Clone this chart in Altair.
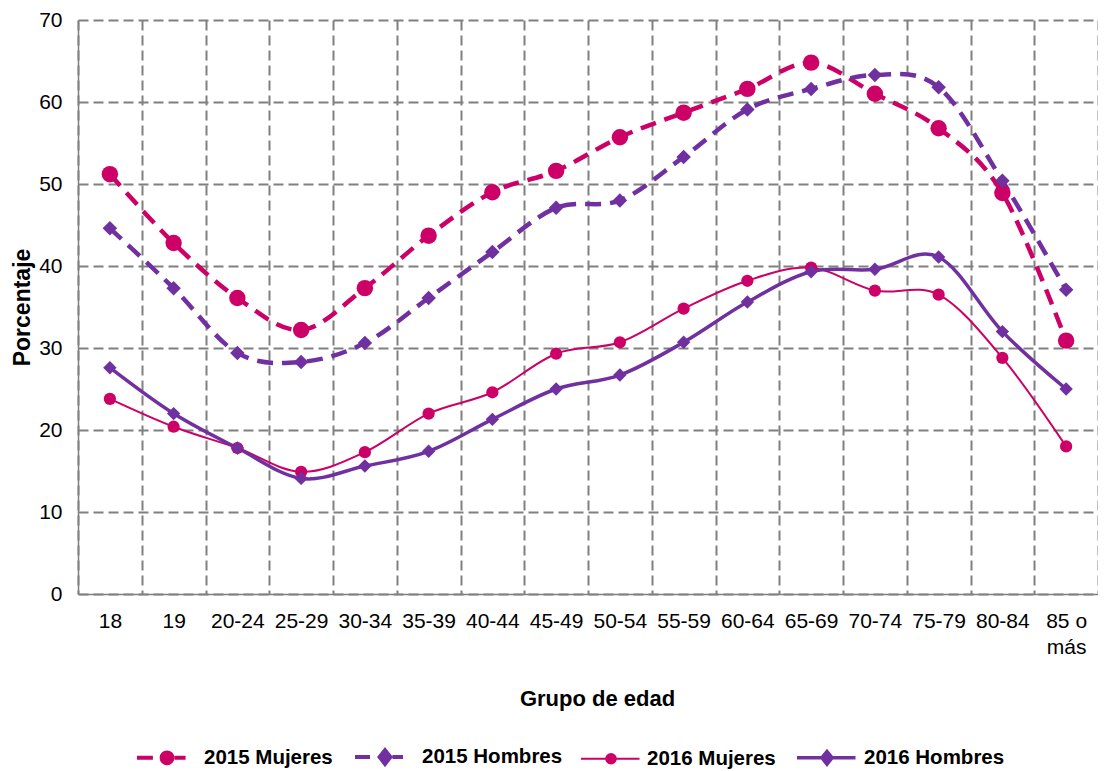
import altair as alt
import pandas as pd

grupos = ["18", "19", "20-24", "25-29", "30-34", "35-39", "40-44", "45-49",
          "50-54", "55-59", "60-64", "65-69", "70-74", "75-79", "80-84", "85 o más"]
series = ["2015 Mujeres", "2015 Hombres", "2016 Mujeres", "2016 Hombres"]
m2015 = [51.2, 42.8, 36.1, 32.2, 37.3, 43.7, 49.0, 51.6, 55.7, 58.7, 61.6, 64.8, 61.0, 56.8, 48.9, 30.9]
h2015 = [44.6, 37.3, 29.4, 28.3, 30.6, 36.1, 41.7, 47.1, 48.0, 53.3, 59.1, 61.6, 63.3, 61.8, 50.4, 37.1]
m2016 = [23.8, 20.4, 17.8, 14.9, 17.3, 22.0, 24.6, 29.3, 30.7, 34.8, 38.2, 39.8, 37.0, 36.5, 28.8, 18.0]
h2016 = [27.6, 22.0, 17.8, 14.1, 15.6, 17.4, 21.3, 25.0, 26.7, 30.7, 35.6, 39.3, 39.6, 41.1, 32.0, 25.0]

rows = []
for s, vals in zip(series, [m2015, h2015, m2016, h2016]):
    for g, v in zip(grupos, vals):
        rows.append({"serie": s, "grupo": g, "valor": v})
df = pd.DataFrame(rows)

MAG = "#CC0066"
PUR = "#7030A0"
colors = [MAG, PUR, MAG, PUR]
widths = [4.5, 4.5, 2, 3.5]
dashes = [[16, 9], [16, 9], None, None]
shapes = ["circle", "diamond", "circle", "diamond"]
sizes = [270, 210, 150, 180]
legend_paths = [
    "M-1,0L-0.47,0M0.25,0L0.62,0M-0.18,0A0.18,0.18 0 1,0 0.18,0A0.18,0.18 0 1,0 -0.18,0Z",
    "M-1,0L-0.5,0M0.25,0L0.6,0M0,-0.23L0.18,0L0,0.23L-0.18,0Z",
    "M-1,0L0.95,0M-0.16,0A0.16,0.16 0 1,0 0.16,0A0.16,0.16 0 1,0 -0.16,0Z",
    "M-1,0L0.95,0M0,-0.21L0.17,0L0,0.21L-0.17,0Z",
]

FONT = "Liberation Sans, Arial, sans-serif"

xenc = alt.X(
    "grupo:N", sort=grupos, bandPosition=0.5,
    scale=alt.Scale(type="band", paddingInner=0, paddingOuter=0),
    axis=alt.Axis(
        title="Grupo de edad", tickBand="extent", grid=True, ticks=False, tickSize=0,
        labelAngle=0, labelPadding=16, labelLineHeight=26, labelOverlap=False,
        labelExpr="datum.value == '85 o más' ? ['85 o', 'más'] : datum.value",
        titlePadding=31, titleX=519,
    ),
)
yenc = alt.Y(
    "valor:Q",
    scale=alt.Scale(domain=[0, 70], nice=False, zero=True),
    axis=alt.Axis(
        title="Porcentaje", values=[0, 10, 20, 30, 40, 50, 60, 70], grid=True,
        ticks=False, tickSize=0, labelPadding=16, titlePadding=4,
    ),
)

base = alt.Chart(df)
line_layers = []
point_layers = []
for s, c, w, d, shp, sz in zip(series, colors, widths, dashes, shapes, sizes):
    lk = dict(interpolate="cardinal", color=c, strokeWidth=w)
    if d is not None:
        lk["strokeDash"] = d
    line_layers.append(
        base.transform_filter(alt.datum.serie == s).mark_line(**lk).encode(x=xenc, y=yenc)
    )
    point_layers.append(
        base.transform_filter(alt.datum.serie == s)
        .mark_point(filled=True, opacity=1, shape=shp, size=sz, color=c)
        .encode(x=xenc, y=yenc)
    )

leg = alt.Legend(
    title=None, orient="none", legendX=57, legendY=705, direction="horizontal",
    labelFont=FONT, labelFontSize=20.5, labelFontWeight="bold", labelColor="#000000",
    labelOffset=5, columnPadding=14, symbolSize=3600,
)
legend_layer = base.transform_filter("false").mark_point(
    filled=True, opacity=1
).encode(
    x=xenc, y=yenc,
    fill=alt.Fill("serie:N", scale=alt.Scale(domain=series, range=colors), legend=leg),
    stroke=alt.Stroke("serie:N", scale=alt.Scale(domain=series, range=colors), legend=leg),
    strokeWidth=alt.StrokeWidth(
        "serie:N", scale=alt.Scale(type="ordinal", domain=series, range=[4, 4, 2, 3.5]), legend=leg
    ),
    shape=alt.Shape("serie:N", scale=alt.Scale(domain=series, range=legend_paths), legend=leg),
)

chart = alt.layer(*line_layers, *point_layers, legend_layer).properties(
    width=1020, height=574,
    autosize=alt.AutoSizeParams(type="none"),
    padding={"left": 70, "top": 12, "right": 0, "bottom": 177},
).configure_view(stroke=None).configure_axis(
    labelFont=FONT, labelFontSize=21, labelColor="#000000",
    titleFont=FONT, titleFontSize=22, titleFontWeight="bold", titleColor="#000000",
    gridColor="#808080", gridDash=[10, 5], gridWidth=2, gridOpacity=1,
    domainColor="#808080", domainWidth=1.5,
).configure_axisY(titleFontSize=23)

chart.save("out.html", embed_options={"renderer": "svg", "actions": False})
